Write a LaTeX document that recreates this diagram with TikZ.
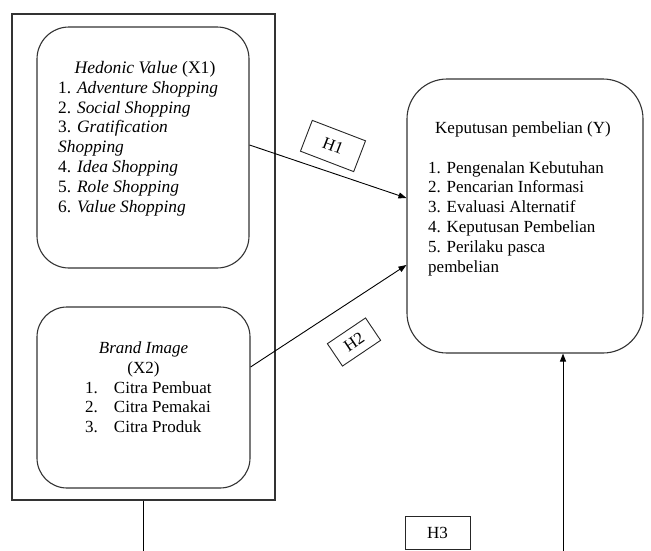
\documentclass[tikz,border=0pt]{standalone}
\usepackage{fontspec}
\setmainfont{Liberation Serif}
\usetikzlibrary{arrows.meta,calc}
\begin{document}
\begin{tikzpicture}[x=1pt,y=-1pt,
  box/.style={draw=black!80,line width=1.1pt,inner sep=0pt,rounded corners=32pt},
  frame/.style={draw=black!80,line width=1.1pt,inner sep=0pt},
  txt/.style={inner sep=0pt,font=\fontsize{17}{19.8}\selectfont,align=left},
  hlab/.style={draw=black!85,line width=0.9pt,inner sep=0pt,font=\fontsize{17}{19.8}\selectfont},
  conn/.style={line width=0.9pt,-{Triangle[length=8pt,width=6pt]}}]
\useasboundingbox (0,0) rectangle (651,550);
% outer frame
\node[frame,minimum width=263pt,minimum height=486pt] (outer) at (143.5,257) {};
% boxes
\node[box,minimum width=212pt,minimum height=241pt] (hed) at (143,147.5) {};
\node[box,rounded corners=30pt,minimum width=213pt,minimum height=181pt] (brand) at (143.5,397.5) {};
\node[box,rounded corners=40pt,minimum width=236pt,minimum height=274pt] (ykep) at (525,216) {};
% Hedonic text
\node[txt,anchor=base,font=\fontsize{17.6}{19.8}\selectfont] (hedt) at (145,73) {\textit{Hedonic Value} (X1)};
\node[txt,anchor=base west,font=\fontsize{17.4}{19.8}\selectfont] (hedl) at (58,212) {1. \textit{Adventure Shopping}\\2. \textit{Social Shopping}\\3. \textit{Gratification}\\\textit{Shopping}\\4. \textit{Idea Shopping}\\5. \textit{Role Shopping}\\6. \textit{Value Shopping}};
% Brand text
\node[txt,anchor=base,align=center] (brt) at (143.5,373) {\textit{Brand Image}\\(X2)};
\node[txt,anchor=base west] (brl) at (85,393) {\begin{tabular}[t]{@{}r@{\hspace{16pt}}l@{}}1.&Citra Pembuat\\2.&Citra Pemakai\\3.&Citra Produk\end{tabular}};
% Y text
\node[txt,anchor=base] (yt) at (523,133) {Keputusan pembelian (Y)};
\node[txt,anchor=base west] (yl) at (428,272) {1. Pengenalan Kebutuhan\\2. Pencarian Informasi\\3. Evaluasi Alternatif\\4. Keputusan Pembelian\\5. Perilaku pasca\\pembelian};
% connectors
\draw[conn] ([yshift=2.5pt]hed.east) -- ([yshift=18pt]ykep.west);
\draw[conn] ([yshift=30.5pt]brand.east) -- ([yshift=-49pt]ykep.west);
\coordinate (h3l) at (143.5,552);
\coordinate (h3r) at (563,552);
\draw[line width=0.9pt] (outer.south) -- (h3l);
\draw[conn] (h3r) -- ([xshift=38pt]ykep.south);
% labels
\node[hlab,rotate=-21,minimum width=57pt,minimum height=33pt] (h1) at (333,146) {H1};
\node[hlab,rotate=34,minimum width=46pt,minimum height=27pt] (h2) at (354,342) {H2};
\node[hlab,minimum width=65pt,minimum height=33pt] (h3) at (437.5,532.5) {H3};
\end{tikzpicture}
\end{document}
